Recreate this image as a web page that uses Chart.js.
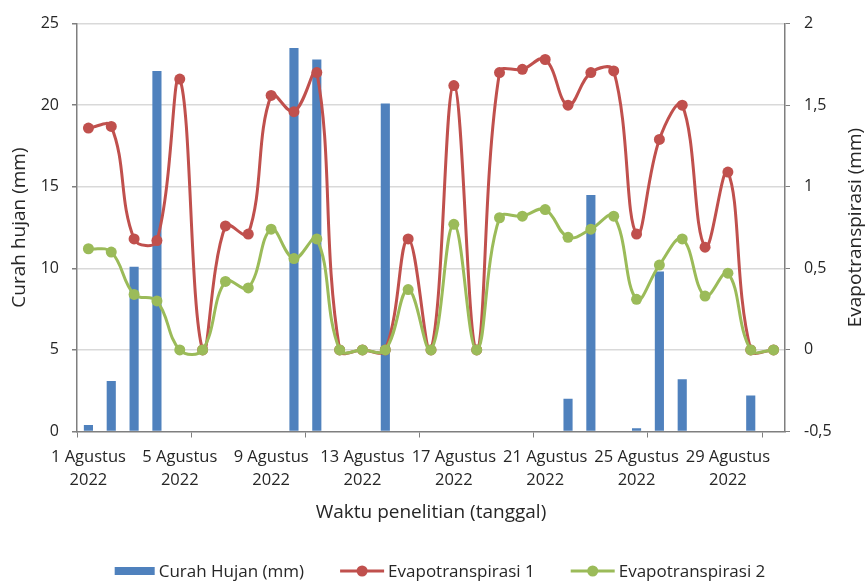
<!DOCTYPE html>
<html>
<head>
<meta charset="utf-8">
<script src="https://cdn.jsdelivr.net/npm/chart.js@4.4.1/dist/chart.umd.min.js"></script>
<style>
  html, body { margin: 0; padding: 0; background: #fff; }
</style>
</head>
<body>
<canvas id="grafik" width="866" height="583"></canvas>
<script>
// data hasil pembacaan grafik
const tanggal = [
  '1 Agustus 2022', '2 Agustus 2022', '3 Agustus 2022', '4 Agustus 2022', '5 Agustus 2022',
  '6 Agustus 2022', '7 Agustus 2022', '8 Agustus 2022', '9 Agustus 2022', '10 Agustus 2022',
  '11 Agustus 2022', '12 Agustus 2022', '13 Agustus 2022', '14 Agustus 2022', '15 Agustus 2022',
  '16 Agustus 2022', '17 Agustus 2022', '18 Agustus 2022', '19 Agustus 2022', '20 Agustus 2022',
  '21 Agustus 2022', '22 Agustus 2022', '23 Agustus 2022', '24 Agustus 2022', '25 Agustus 2022',
  '26 Agustus 2022', '27 Agustus 2022', '28 Agustus 2022', '29 Agustus 2022', '30 Agustus 2022',
  '31 Agustus 2022'
];
const curahHujan = [0.4, 3.1, 10.1, 22.1, 0, 0, 0, 0, 0, 23.5, 22.8, 0, 0, 20.1, 0, 0,
  0, 0, 0, 0, 0, 2.0, 14.5, 0, 0.2, 9.8, 3.2, 0, 0, 2.2, 0];
const evapo1 = [1.36, 1.37, 0.68, 0.67, 1.66, 0, 0.76, 0.71, 1.56, 1.46, 1.70, 0, 0, 0, 0.68, 0,
  1.62, 0, 1.70, 1.72, 1.78, 1.50, 1.70, 1.71, 0.71, 1.29, 1.50, 0.63, 1.09, 0, 0];
const evapo2 = [0.62, 0.60, 0.34, 0.30, 0, 0, 0.42, 0.38, 0.74, 0.56, 0.68, 0, 0, 0, 0.37, 0,
  0.77, 0, 0.81, 0.82, 0.86, 0.69, 0.74, 0.82, 0.31, 0.52, 0.68, 0.33, 0.47, 0, 0];

const BIRU = '#4f81bd', MERAH = '#c0504d', HIJAU = '#9bbb59';
const TEKS = '#262626', GARIS = '#7f7f7f';
const FONT = '"Open Sans", sans-serif';

// legenda dan judul sumbu kanan digambar manual (posisi seperti Excel)
const legendaManual = {
  id: 'legendaManual',
  afterDraw(chart) {
    const ctx = chart.ctx;
    ctx.save();
    ctx.font = '17px ' + FONT;
    ctx.textBaseline = 'middle';
    ctx.fillStyle = TEKS;
    const y = 571, gap = 36, jarakTeks = 4;
    const item = chart.data.datasets.map(ds => ({
      ds, w: ds.type === 'bar' ? 40 : 44, tw: ctx.measureText(ds.label).width
    }));
    const total = item.reduce((s, it) => s + it.w + jarakTeks + it.tw, 0) + gap * (item.length - 1);
    let x = 440 - total / 2;
    item.forEach(it => {
      const c = it.ds.backgroundColor;
      if (it.ds.type === 'bar') {
        ctx.fillStyle = c;
        ctx.fillRect(x, y - 4, it.w, 8);
      } else {
        ctx.strokeStyle = c; ctx.lineWidth = 3;
        ctx.beginPath(); ctx.moveTo(x, y); ctx.lineTo(x + it.w, y); ctx.stroke();
        ctx.fillStyle = c;
        ctx.beginPath(); ctx.arc(x + it.w / 2, y, 5.5, 0, Math.PI * 2); ctx.fill();
      }
      x += it.w + jarakTeks;
      ctx.fillStyle = TEKS;
      ctx.fillText(it.ds.label, x, y + 1);
      x += it.tw + gap;
    });
    // judul sumbu kanan, dibaca dari bawah ke atas
    const a = chart.chartArea;
    ctx.font = '19px ' + FONT;
    ctx.textAlign = 'center';
    ctx.translate(856, (a.top + a.bottom) / 2);
    ctx.rotate(-Math.PI / 2);
    ctx.fillText('Evapotranspirasi (mm)', 0, 0);
    ctx.restore();
  }
};

new Chart(document.getElementById('grafik'), {
  data: {
    labels: tanggal,
    datasets: [
      {
        type: 'bar', label: 'Curah Hujan (mm)', data: curahHujan, yAxisID: 'y',
        backgroundColor: BIRU, barPercentage: 0.4, categoryPercentage: 1, order: 3
      },
      {
        type: 'line', label: 'Evapotranspirasi 1', data: evapo1, yAxisID: 'y1',
        borderColor: MERAH, backgroundColor: MERAH, borderWidth: 3, tension: 0.4,
        pointRadius: 5.5, pointBackgroundColor: MERAH, pointBorderWidth: 0, order: 2
      },
      {
        type: 'line', label: 'Evapotranspirasi 2', data: evapo2, yAxisID: 'y1',
        borderColor: HIJAU, backgroundColor: HIJAU, borderWidth: 3, tension: 0.4,
        pointRadius: 5.5, pointBackgroundColor: HIJAU, pointBorderWidth: 0, order: 1
      }
    ]
  },
  options: {
    responsive: false,
    animation: false,
    layout: { padding: { top: 17, left: 0, right: 0, bottom: 59 } },
    plugins: {
      tooltip: { enabled: false },
      legend: { display: false }
    },
    scales: {
      x: {
        offset: true,
        grid: {
          offset: true, drawOnChartArea: false, tickLength: 6,
          tickColor: ctx => (ctx.index % 5 === 0 ? GARIS : 'rgba(0,0,0,0)')
        },
        border: { color: GARIS, width: 1.5 },
        ticks: {
          autoSkip: false, maxRotation: 0, color: TEKS, padding: 8,
          font: { family: FONT, size: 16.5, lineHeight: 1.4 },
          callback: function (v, i) {
            if (i % 4 !== 0) return '';
            const t = this.getLabelForValue(v);
            const k = t.lastIndexOf(' ');
            return [t.slice(0, k), t.slice(k + 1)];
          }
        },
        title: {
          display: true, text: 'Waktu penelitian (tanggal)', color: TEKS,
          font: { family: FONT, size: 19 }, padding: { top: 0, bottom: 0 }
        },
        afterFit: s => { s.height = 92.5; }
      },
      y: {
        position: 'left', min: 0, max: 25,
        ticks: { stepSize: 5, color: TEKS, font: { family: FONT, size: 16 }, padding: 13 },
        grid: {
          color: ctx => (ctx.tick.value === 0 ? 'rgba(0,0,0,0)' : '#d9d9d9'),
          lineWidth: 1.5, tickColor: GARIS, tickLength: 5
        },
        border: { color: GARIS, width: 1.5 },
        title: {
          display: true, text: 'Curah hujan (mm)', color: TEKS,
          font: { family: FONT, size: 19 }, padding: { top: 8, bottom: 4 }
        },
        afterFit: s => { s.width = 77; }
      },
      y1: {
        position: 'right', min: -0.5, max: 2,
        ticks: {
          stepSize: 0.5, color: TEKS, font: { family: FONT, size: 16 }, padding: 14,
          callback: v => String(v).replace('.', ',')
        },
        grid: { drawOnChartArea: false, tickColor: GARIS, tickLength: 5 },
        border: { color: GARIS, width: 1.5 },
        afterFit: s => { s.width = 81; }
      }
    }
  },
  plugins: [legendaManual]
});
</script>
</body>
</html>
